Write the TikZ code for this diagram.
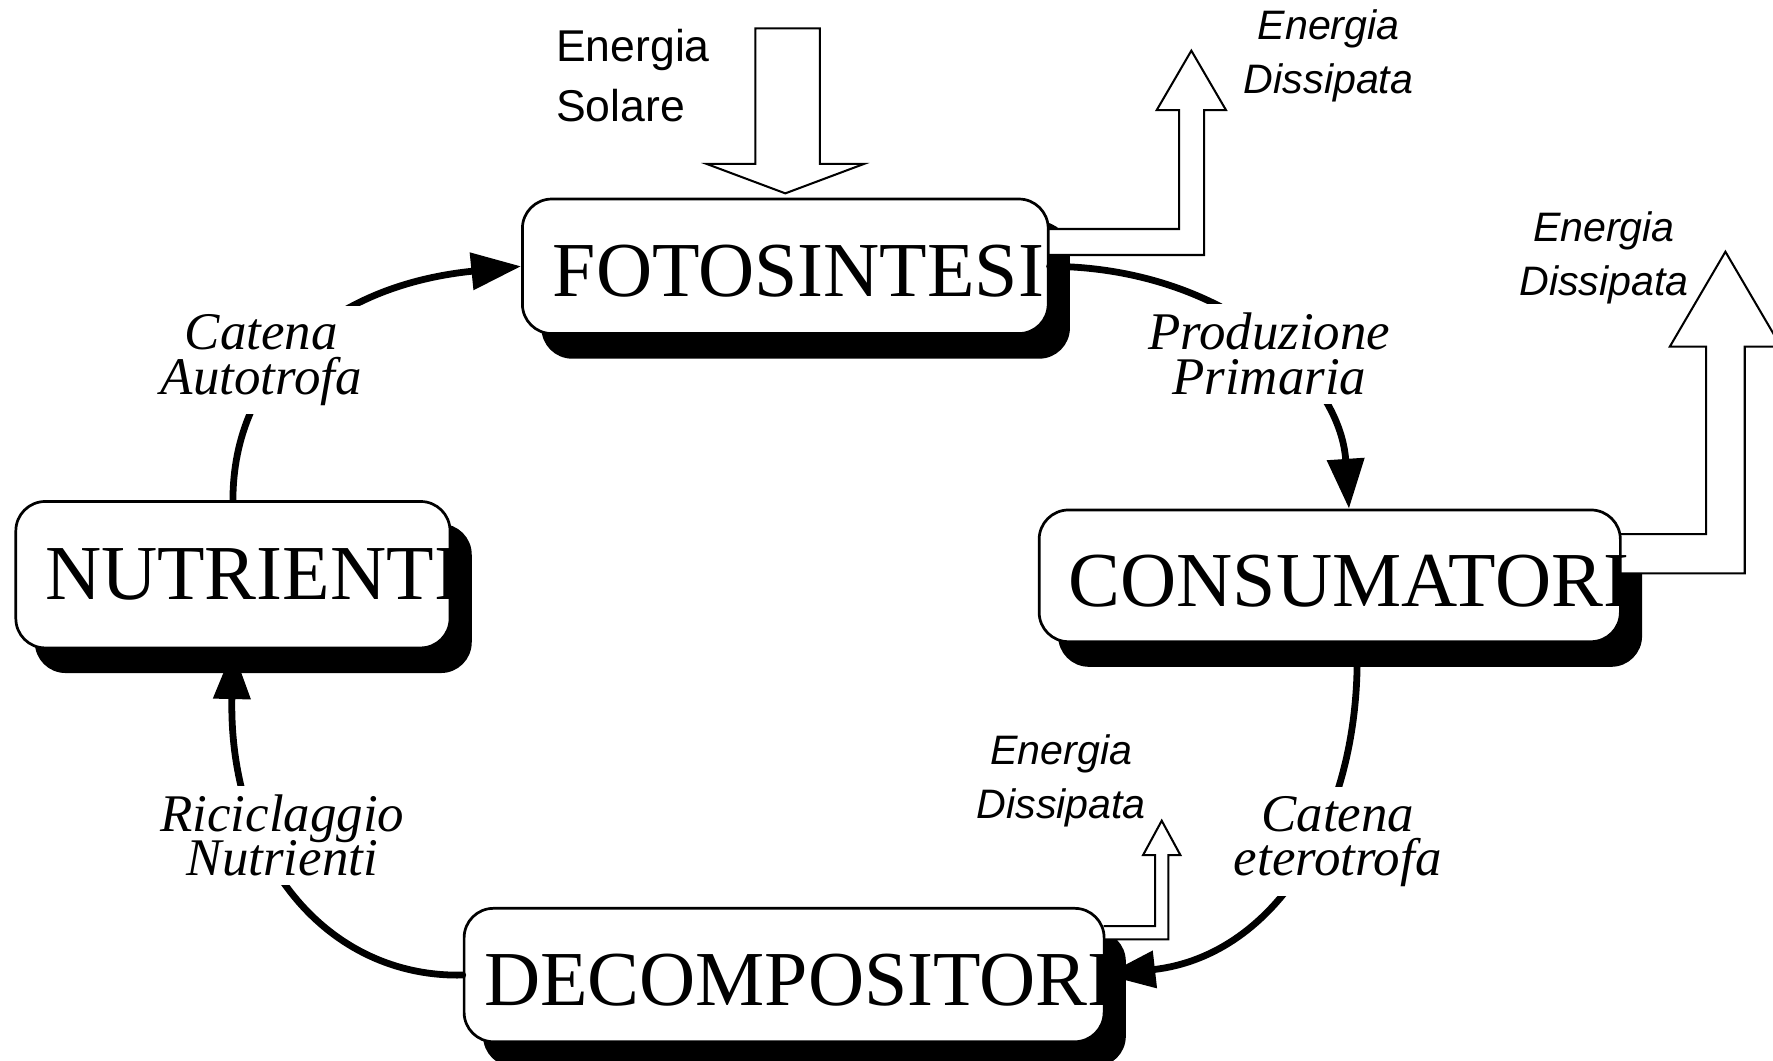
\documentclass[tikz,border=0pt]{standalone}
\usepackage{fontspec}
\setmainfont{Liberation Serif}
\setsansfont{Liberation Sans}
\usetikzlibrary{arrows.meta}
\newcommand{\twoC}[2]{\vtop{\lineskiplimit=-\maxdimen\halign{\hfil##\hfil\cr#1\cr#2\cr}}}
\newcommand{\twoL}[2]{\vtop{\lineskiplimit=-\maxdimen\halign{##\hfil\cr#1\cr#2\cr}}}
\begin{document}
\begin{tikzpicture}[x=0.5pt,y=-0.5pt,
  boxbase/.style={rectangle, rounded corners=13pt, inner sep=0pt, line width=1.2pt},
  box/.style={boxbase, draw=black, fill=white},
  shade/.style={boxbase, draw=black, fill=black},
  boxtext/.style={anchor=base west, inner sep=0pt, font=\fontsize{34.4pt}{40pt}\selectfont},
  flow/.style={line width=3pt, -{Triangle[length=22pt,width=16pt]}},
  flowlabel/.style={anchor=base, fill=white, inner sep=4pt, font=\itshape\fontsize{23.4pt}{19.5pt}\selectfont},
  elabel/.style={anchor=base, inner sep=0pt, font=\sffamily\itshape\fontsize{18.2pt}{23.75pt}\selectfont},
  hollow/.style={draw=black, fill=white, line width=0.9pt, line join=miter}]
\useasboundingbox (0,0) rectangle (1568,938);

% shadows
\node[shade, minimum width=232.5pt, minimum height=59.5pt] (Fs) at (712.5,256.5) {};
\node[shade, minimum width=192pt, minimum height=64.75pt] (Ns) at (224,529.25) {};
\node[shade, minimum width=257pt, minimum height=58.25pt] (Cs) at (1194,530.25) {};
\node[shade, minimum width=283pt, minimum height=59pt] (Ds) at (711.45,883.3) {};

% solar energy arrow
\draw[hollow] (668,25) -- (725,25) -- (725,145) -- (764,145) -- (694.5,171) -- (625,145) -- (668,145) -- cycle;

% dissipated energy arrows
\draw[hollow] (927,202.5) -- (1042.7,202.5) -- (1042.7,97.3) -- (1023,97.3) -- (1053.6,44.8) -- (1084.2,97.3) -- (1064.8,97.3) -- (1064.8,225.5) -- (927,225.5);
\draw[hollow] (1432,472.3) -- (1508.8,472.3) -- (1508.8,306.6) -- (1476.7,306.6) -- (1525.9,222.6) -- (1575.1,306.6) -- (1543,306.6) -- (1543,507) -- (1432,507);
\draw[hollow] (976,819) -- (1021.5,819) -- (1021.5,756.2) -- (1010.9,756.2) -- (1027.4,725.8) -- (1043.9,756.2) -- (1033.3,756.2) -- (1033.3,830.7) -- (976,830.7);

% boxes
\node[box, minimum width=232.5pt, minimum height=59.5pt] (F) at (694.5,235.5) {};
\node[box, minimum width=192pt, minimum height=64.75pt] (N) at (206,508.25) {};
\node[box, minimum width=257pt, minimum height=58.25pt] (C) at (1176,509.25) {};
\node[box, minimum width=283pt, minimum height=59pt] (D) at (693.45,862.3) {};

\node[boxtext] (Ft) at (488.5,262.4) {FOTOSINTESI};
\node[boxtext] (Nt) at (39.5,530.6) {NUTRIENTI};
\node[boxtext] (Ct) at (944.6,536.5) {CONSUMATORI};
\node[boxtext] (Dt) at (427.7,888.8) {DECOMPOSITORI};

% cycle connectors
\draw[flow] (N.north) .. controls (206,330) and (292,252.5) .. (F.west);
\draw[flow, line cap=round] (F.east) .. controls (1080,236) and (1185,330) .. ([xshift=8.5pt]C.north);
\draw[flow] ([xshift=12pt]C.south) .. controls (1205,720) and (1130,845) .. (D.east);
\draw[flow, line cap=round] (D.west) .. controls (290,865) and (202,760) .. (N.south);

% connector labels
\node[flowlabel] (la) at (231,309.5) {\twoC{Catena}{Autotrofa}};
\node[flowlabel] (lb) at (1122.5,309.5) {\twoC{Produzione}{Primaria}};
\node[flowlabel] (lc) at (1183,735) {\twoC{Catena}{eterotrofa}};
\node[flowlabel] (ld) at (249.7,735.5) {\twoC{Riciclaggio}{Nutrienti}};

% energy labels
\node[elabel] (e1) at (1175,35) {\twoC{Energia}{Dissipata}};
\node[elabel] (e2) at (1418.5,213.7) {\twoC{Energia}{Dissipata}};
\node[elabel] (e3) at (938.5,676) {\twoC{Energia}{Dissipata}};
\node[anchor=base west, inner sep=0pt, font=\sffamily\fontsize{19.7pt}{26.5pt}\selectfont] (es) at (491.5,54.6) {\twoL{Energia}{Solare}};
\end{tikzpicture}
\end{document}
